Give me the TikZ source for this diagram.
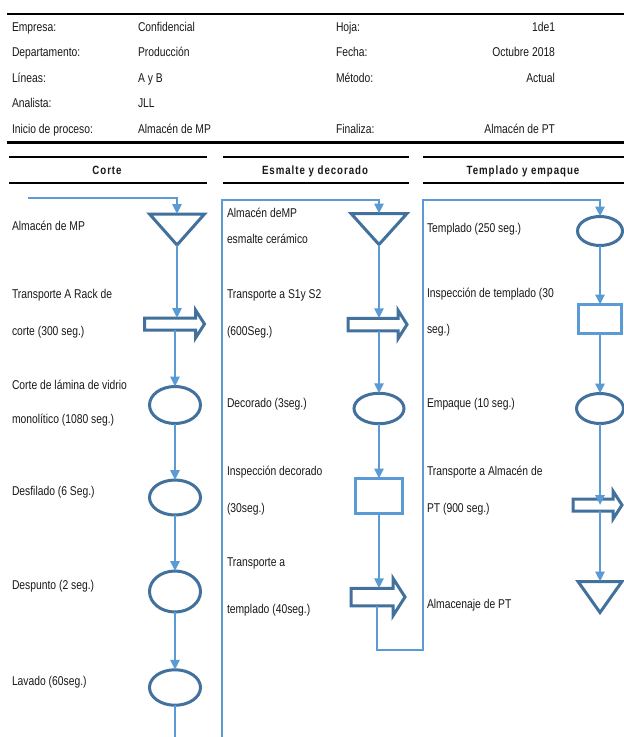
\documentclass[tikz,border=0pt]{standalone}
\usepackage{fontspec}
\setmainfont[FakeStretch=0.81]{Liberation Sans}
\usetikzlibrary{calc,arrows.meta,shapes.geometric}
\definecolor{lblue}{RGB}{91,155,213}
\definecolor{dblue}{RGB}{65,113,156}
\definecolor{txt}{RGB}{25,25,25}
\begin{document}
\begin{tikzpicture}[x=1bp,y=-1bp,
  every node/.style={inner sep=0pt,outer sep=0pt,text=txt},
  lbl/.style={anchor=base west,font=\fontsize{12.8}{14}\selectfont},
  lblr/.style={anchor=base east,font=\fontsize{12.8}{14}\selectfont},
  ttl/.style={anchor=base,font=\fontsize{12}{13}\selectfont\bfseries\addfontfeature{LetterSpace=8}},
  rule/.style={line width=2.4bp,black},
  conn/.style={draw=lblue,line width=2.4bp,-{Triangle[length=10bp,width=9bp]}},
  plain/.style={draw=lblue,line width=2.4bp},
  framel/.style={draw=lblue,line width=2.8bp},
  ell/.style={ellipse,draw=dblue,line width=3bp},
  procbox/.style={rectangle,draw=lblue,line width=3bp},
  ghost/.style={rectangle,draw=none},
  shp/.style={draw=dblue,line width=3bp,line join=miter}
]
\useasboundingbox (0,0) rectangle (624,737);
\fill[white] (0,0) rectangle (624,737);

% ---------- header ----------
\draw[rule] (7,14) -- (624,14);
\draw[rule] (7,142.5) -- (624,142.5);
\node[lbl] (h11) at (12,32) {Empresa:};
\node[lbl] (h12) at (138,32) {Confidencial};
\node[lbl] (h13) at (336,32) {Hoja:};
\node[lblr] (h14) at (555,32) {1de1};
\node[lbl] (h21) at (12,57) {Departamento:};
\node[lbl] (h22) at (138,57) {Producción};
\node[lbl] (h23) at (336,57) {Fecha:};
\node[lblr] (h24) at (555,57) {Octubre 2018};
\node[lbl] (h31) at (12,82) {Líneas:};
\node[lbl] (h32) at (138,82) {A y B};
\node[lbl] (h33) at (336,82) {Método:};
\node[lblr] (h34) at (555,82) {Actual};
\node[lbl] (h41) at (12,107) {Analista:};
\node[lbl] (h42) at (138,107) {JLL};
\node[lbl] (h51) at (12,133) {Inicio de proceso:};
\node[lbl] (h52) at (138,133) {Almacén de MP};
\node[lbl] (h53) at (336,133) {Finaliza:};
\node[lblr] (h54) at (555,133) {Almacén de PT};

% ---------- lane headers ----------
\draw[rule] (9,157) -- (207,157);
\draw[rule] (9,183) -- (207,183);
\draw[rule] (223,157) -- (409,157);
\draw[rule] (223,183) -- (409,183);
\draw[rule] (423,157) -- (624,157);
\draw[rule] (423,183) -- (624,183);
\node[ttl] (tc) at (107,174) {Corte};
\node[ttl] (te) at (315,174) {Esmalte y decorado};
\node[ttl] (tt) at (523,174) {Templado y empaque};

% ---------- Corte lane ----------
\node[ghost,minimum width=55bp,minimum height=31bp] (t1) at (177,229.5) {};
\draw[shp] (t1.north west) -- (t1.north east) -- (t1.south) -- cycle;
\node[ghost,minimum width=51bp,minimum height=12bp] (ba1) at (170,324) {};
\draw[shp] (ba1.north west) -- (ba1.north east) -- ++(0,-8) -- ($(ba1.east)+(9,0)$)
  -- ($(ba1.south east)+(0,8)$) -- (ba1.south east) -- (ba1.south west) -- cycle;
\node[ell,minimum width=51bp,minimum height=37bp] (c1) at (175,405) {};
\node[ell,minimum width=51bp,minimum height=35bp] (c2) at (175,497.5) {};
\node[ell,minimum width=51bp,minimum height=41bp] (c3) at (175,591.5) {};
\node[ell,minimum width=51bp,minimum height=35.5bp] (c4) at (175,687.5) {};

\coordinate (cstart) at (28,198);
\coordinate (cend) at (175,737);
\draw[conn] (cstart) -| (t1.north);
\draw[conn] (t1.south) -- (t1.south |- ba1.north);
\draw[conn] (c1.north |- ba1.south) -- (c1.north);
\draw[conn] (c1.south) -- (c2.north);
\draw[conn] (c2.south) -- (c3.north);
\draw[conn] (c3.south) -- (c4.north);
\draw[plain] (c4.south) -- (cend);

\node[lbl] (lc1) at (12,230) {Almacén de MP};
\node[lbl] (lc2) at (12,298) {Transporte A Rack de};
\node[lbl] (lc3) at (12,335) {corte (300 seg.)};
\node[lbl] (lc4) at (12,389) {Corte de lámina de vidrio};
\node[lbl] (lc5) at (12,423) {monolítico (1080 seg.)};
\node[lbl] (lc6) at (12,495) {Desfilado (6 Seg.)};
\node[lbl] (lc7) at (12,589) {Despunto (2 seg.)};
\node[lbl] (lc8) at (12,685) {Lavado (60seg.)};

% ---------- Esmalte lane ----------
\node[ghost,minimum width=56bp,minimum height=31bp] (t2) at (379,229) {};
\draw[shp] (t2.north west) -- (t2.north east) -- (t2.south) -- cycle;
\node[ghost,minimum width=50bp,minimum height=12.5bp] (ba2) at (373,324.5) {};
\draw[shp] (ba2.north west) -- (ba2.north east) -- ++(0,-8) -- ($(ba2.east)+(9,0)$)
  -- ($(ba2.south east)+(0,8)$) -- (ba2.south east) -- (ba2.south west) -- cycle;
\node[ell,minimum width=50bp,minimum height=30.5bp] (e1) at (379,408.5) {};
\node[procbox,minimum width=47bp,minimum height=35bp] (r1) at (379,496) {};
\node[ghost,minimum width=42bp,minimum height=17.5bp] (ba3) at (372,597) {};
\draw[shp] (ba3.north west) -- (ba3.north east) -- ++(0,-10) -- ($(ba3.east)+(12,0)$)
  -- ($(ba3.south east)+(0,10)$) -- (ba3.south east) -- (ba3.south west) -- cycle;

\coordinate (estart) at (222,737);
\coordinate (ecorner) at (222,200);
\draw[framel,-{Triangle[length=10bp,width=9bp]}] (estart) -- (ecorner) -| (t2.north);
\draw[conn] (t2.south) -- (t2.south |- ba2.north);
\draw[conn] (e1.north |- ba2.south) -- (e1.north);
\draw[conn] (e1.south) -- (r1.north);
\draw[conn] (r1.south) -- (r1.south |- ba3.north);

\node[lbl] (le1) at (227,217) {Almacén deMP};
\node[lbl] (le2) at (227,243) {esmalte cerámico};
\node[lbl] (le3) at (227,298) {Transporte a S1y S2};
\node[lbl] (le4) at (227,335) {(600Seg.)};
\node[lbl] (le5) at (227,407) {Decorado (3seg.)};
\node[lbl] (le6) at (227,475) {Inspección decorado};
\node[lbl] (le7) at (227,512) {(30seg.)};
\node[lbl] (le8) at (227,566) {Transporte a};
\node[lbl] (le9) at (227,613) {templado (40seg.)};

% ---------- Templado lane ----------
\node[ell,minimum width=45bp,minimum height=29bp] (te1) at (600,231) {};
\node[procbox,minimum width=43bp,minimum height=29bp] (r2) at (600,319) {};
\node[ell,minimum width=47bp,minimum height=30bp] (te2) at (600,408.5) {};
\node[ghost,minimum width=40bp,minimum height=12bp] (ba4) at (593,505) {};
\draw[shp] (ba4.north west) -- (ba4.north east) -- ++(0,-8) -- ($(ba4.east)+(9,0)$)
  -- ($(ba4.south east)+(0,8)$) -- (ba4.south east) -- (ba4.south west) -- cycle;
\node[ghost,minimum width=44bp,minimum height=31bp] (t3) at (600,597) {};
\draw[shp] (t3.north west) -- (t3.north east) -- (t3.south) -- cycle;

\coordinate (ret1) at (377,650);
\coordinate (ret2) at (423,650);
\coordinate (ret3) at (423,200);
\draw[framel,-{Triangle[length=10bp,width=9bp]}] (ret1 |- ba3.south) -- (ret1) -- (ret2) -- (ret3) -| (te1.north);
\draw[conn] (te1.south) -- (r2.north);
\draw[conn] (r2.south) -- (te2.north);
\draw[conn] (te2.south) -- (te2.south |- ba4.center);
\draw[conn] (te2.south |- ba4.south) -- (t3.north);

\node[lbl] (lt1) at (427,232) {Templado (250 seg.)};
\node[lbl] (lt2) at (427,297) {Inspección de templado (30};
\node[lbl] (lt3) at (427,333) {seg.)};
\node[lbl] (lt4) at (427,407) {Empaque (10 seg.)};
\node[lbl] (lt5) at (427,475) {Transporte a Almacén de};
\node[lbl] (lt6) at (427,512) {PT (900 seg.)};
\node[lbl] (lt7) at (427,608) {Almacenaje de PT};
\end{tikzpicture}
\end{document}
